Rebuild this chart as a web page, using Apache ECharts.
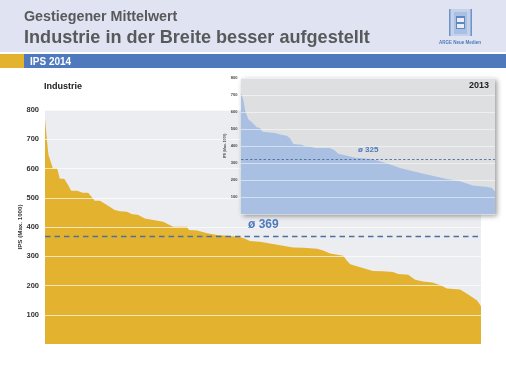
<!DOCTYPE html>
<html><head><meta charset="utf-8">
<style>html,body{margin:0;padding:0;background:#fff}#c{width:506px;height:365px}</style>
<script src="https://cdn.jsdelivr.net/npm/echarts@6/dist/echarts.min.js"></script>
</head><body><div id="c"></div>
<script>
const ranks2014 = [0,0.4,0.8,1.8,2.8,3.4,4.4,5.3,6,7.4,8.6,9.9,11.4,12.6,14.2,16,17.2,18.8,20,21.3,22.9,24.8,27.1,29.4,32.6,33,34.9,37.2,39.5,41.8,44.7,45.9,47,49.3,51.6,54.6,56.9,59.2,62.4,63.8,65.4,68.4,69.3,70,72.3,75.2,77.5,79.8,81,83.3,84.9,86.7,88.8,90.6,92.2,95.2,96.8,98.2,99.1,100];
const values2014 = [772,703,646,601,600,565,565,544,524,524,517,517,490,490,475,458,454,452,444,442,429,424,418,401,401,390,388,379,373,370,366,360,352,350,344,336,330,329,326,320,309,302,284,273,262,250,249,246,239,237,220,214,210,202,190,186,172,158,149,129];
const ranks2013 = [0,0.9,1.8,2.9,4.8,6.2,7.5,8.5,13.4,15.4,18,19.3,20.6,23.9,25.2,27.8,29.1,35,36.7,38.3,42.2,44.9,46.9,48.8,52,57.4,62.6,67.7,73.2,81,86.2,91.3,97.2,98.8,100];
const values2013 = [714,670,600,557,533,510,506,484,476,467,461,445,412,408,398,394,388,388,376,355,341,331,329,326,322,298,271,251,233,206,192,167,159,153,133];
const mean2014 = 369, mean2013 = 325;
const axisName = "IPS (Max. 1000)";
const heading = "Gestiegener Mittelwert", title = "Industrie in der Breite besser aufgestellt";
const FF = '"Liberation Sans", Arial, sans-serif';
const pair = (a,b)=>a.map((x,i)=>[x,b[i]]);
const txt = (text,x,y,size,fill,extra={}) => ({type:'text',z:100,style:Object.assign({text,x,y,fill,font:`bold ${size}px ${FF}`,textVerticalAlign:'middle'},extra)});
const rect = (x,y,w,h,fill,z=1) => ({type:'rect',z,shape:{x,y,width:w,height:h},style:{fill}});
const logo = [rect(449,9,23,27,'#c3d2ea'),rect(449,9,1.5,27,'#6f92c8'),rect(470.5,9,1.5,27,'#6f92c8'),rect(454,12,13,22,'#a9c0e3'),rect(456,16,9,13,'#5f87c2'),rect(457,18,7,4,'#e8edf7'),rect(457,24,7,4,'#e8edf7')];
const chart = echarts.init(document.getElementById('c'),null,{renderer:'canvas'});
const yax = (gi,fs,col,gap,nfs,z,alpha,margin) => ({type:'value',gridIndex:gi,min:0,max:800,interval:100,z,
  name:axisName,nameLocation:'middle',nameGap:gap,nameMoveOverlap:false,nameTextStyle:{fontFamily:FF,fontWeight:'bold',fontSize:nfs,color:col},
  axisLine:{show:false},axisTick:{show:false},
  axisLabel:{formatter:v=>v===0?'':String(v),fontFamily:FF,fontWeight:'bold',fontSize:fs,color:col,margin},
  splitLine:{show:true,lineStyle:{color:`rgba(255,255,255,${alpha})`,width:1}}});
const ser = (gi,data,fill,mean,dash,width,z) => ({type:'line',xAxisIndex:gi,yAxisIndex:gi,data,z,showSymbol:false,silent:true,
  lineStyle:{width:0},areaStyle:{color:fill,opacity:1},
  markLine:{silent:true,z:z+1,symbol:'none',label:{show:false},lineStyle:{color:'#4e6f9f',type:dash,width},data:[{yAxis:mean}]}});
chart.setOption({
  animation:false,backgroundColor:'#fff',
  grid:[
    {left:45,width:436,top:110,height:234,outerBoundsMode:'none',show:true,backgroundColor:'#ecedf0',borderWidth:0,z:1},
    {left:241,width:254,top:78,height:136,outerBoundsMode:'none',show:true,backgroundColor:'#dedfe1',borderWidth:0,z:5,shadowBlur:5,shadowOffsetX:2,shadowOffsetY:2,shadowColor:'rgba(0,0,0,0.4)'}
  ],
  xAxis:[{type:'value',gridIndex:0,min:0,max:100,show:false},{type:'value',gridIndex:1,min:0,max:100,show:false}],
  yAxis:[yax(0,7.5,'#333',22,6.2,3,0.68,6),yax(1,4,'#444',14,3.4,8,0.5,3.5)],
  series:[ser(0,pair(ranks2014,values2014),'#e3b22f',mean2014,[5.5,4],1.4,2),ser(1,pair(ranks2013,values2013),'#a9c0e3',mean2013,[2.5,2],0.9,6)],
  graphic:{elements:[
    rect(0,0,506,52,'#e0e4f2'),rect(0,54,24,14,'#e3b22f'),rect(24,54,482,14,'#4f79bd'),...logo,
    txt(heading,24,17,14.3,'#58595b'),txt(title,24,37.5,18.1,'#58595b'),
    txt("ARGE Neue Medien",460,43,4.5,'#4f79bd',{textAlign:'center'}),
    txt("IPS 2014",30,62,10,'#fff'),txt("Industrie",44,87,9,'#222'),txt("2013",489,86,9,'#222',{textAlign:'right'}),
    txt("ø "+mean2014,248,225,12,'#4f79bd'),txt("ø "+mean2013,358,150,8,'#4f79bd')
  ]}
});
</script></body></html>
